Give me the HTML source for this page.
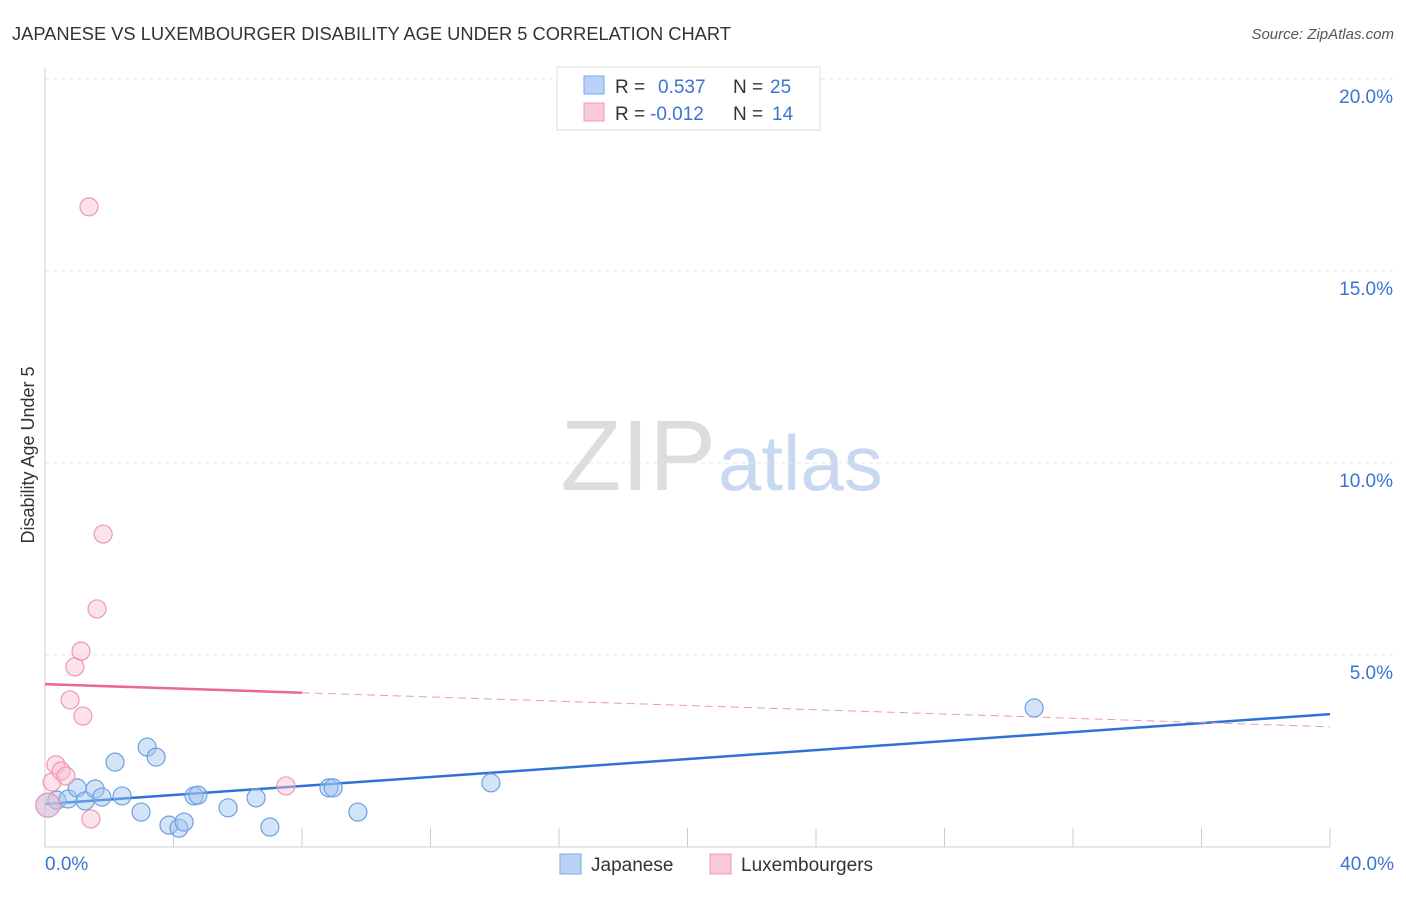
<!DOCTYPE html>
<html><head><meta charset="utf-8"><style>
body{margin:0;background:#fff;font-family:"Liberation Sans",sans-serif;}
svg text{font-family:"Liberation Sans",sans-serif;}
</style></head><body>
<svg id="chart" width="1406" height="892" xmlns="http://www.w3.org/2000/svg">
<text x="12" y="40" font-size="18.3" fill="#333">JAPANESE VS LUXEMBOURGER DISABILITY AGE UNDER 5 CORRELATION CHART</text>
<text x="1394" y="39" font-size="15" fill="#555" font-style="italic" text-anchor="end">Source: ZipAtlas.com</text>
<text x="716" y="490" font-size="100" fill="#ddd" font-family="Liberation Serif" text-anchor="end">ZIP</text>
<text x="718" y="490" font-size="78" fill="#c8d8f0">atlas</text>
<text transform="translate(34,455) rotate(-90)" font-size="18" fill="#333" text-anchor="middle">Disability Age Under 5</text>
<g id="grid"></g><g id="ticks"></g><g id="lines"></g><g id="points"></g>
<g>
<rect x="557" y="67" width="263" height="63" fill="#fff" stroke="#ddd"/>
<rect x="584" y="76" width="20" height="18" fill="#b8d3f7" stroke="#7aa8e8"/>
<text x="615" y="93" font-size="19" fill="#333">R =</text><text x="658" y="93" font-size="19" fill="#3a74d4">0.537</text>
<text x="733" y="93" font-size="19" fill="#333">N =</text><text x="770" y="93" font-size="19" fill="#3a74d4">25</text>
<rect x="584" y="103" width="20" height="18" fill="#fbc8d6" stroke="#f098b0"/>
<text x="615" y="120" font-size="19" fill="#333">R =</text><text x="650" y="120" font-size="19" fill="#3a74d4">-0.012</text>
<text x="733" y="120" font-size="19" fill="#333">N =</text><text x="772" y="120" font-size="19" fill="#3a74d4">14</text>
</g>
<g>
<rect x="560" y="854" width="21" height="20" fill="#b8d3f7" stroke="#7aa8e8"/>
<text x="591" y="871" font-size="19" fill="#333">Japanese</text>
<rect x="710" y="854" width="21" height="20" fill="#fbc8d6" stroke="#f098b0"/>
<text x="741" y="871" font-size="19" fill="#333">Luxembourgers</text>
</g>
</svg>
<script>
const yTicks=[5,10,15,20];
const yTickLabels=["5.0%","10.0%","15.0%","20.0%"];
const xTickLabels=["0.0%","40.0%"];
const japX=[0.09,0.37,0.72,1.0,1.25,1.56,1.77,2.18,2.4,2.99,3.18,3.46,3.86,4.17,4.33,4.64,4.76,5.7,6.57,7.0,8.84,8.97,9.74,13.88,30.79];
const japY=[1.09,1.22,1.25,1.54,1.2,1.51,1.3,2.21,1.33,0.91,2.6,2.34,0.57,0.49,0.65,1.33,1.35,1.02,1.28,0.52,1.54,1.54,0.91,1.67,3.62];
const luxX=[0.09,0.22,0.34,0.5,0.65,0.78,0.93,1.12,1.18,1.37,1.43,1.62,1.81,7.5];
const luxY=[1.09,1.69,2.14,1.98,1.85,3.83,4.69,5.1,3.41,16.67,0.73,6.2,8.15,1.59];
const japTrend=[1.12,3.46];
const luxTrend=[4.24,3.13];
const NS="http://www.w3.org/2000/svg";
const sx=v=>45+v*32.125, sy=v=>847-v*38.4;
function mk(t,a,p){const e=document.createElementNS(NS,t);for(const k in a)e.setAttribute(k,a[k]);document.getElementById(p).appendChild(e);return e;}
yTicks.forEach((t,i)=>{
 let g=mk('line',{x1:45,x2:1394,y1:sy(t),y2:sy(t),stroke:'#e4e4e4','stroke-dasharray':'4,4'},'grid');
 
 
 let l=mk('text',{x:1393,y:sy(t)+24,'font-size':19,fill:'#3a74d4','text-anchor':'end'},'ticks');
 l.textContent=yTickLabels[i];
 
 
});
let ax=mk('line',{x1:45,x2:45,y1:68,y2:847,stroke:'#ccc'},'grid');


let bx=mk('line',{x1:45,x2:1330,y1:847,y2:847,stroke:'#ccc'},'grid');


for(let i=1;i<=10;i++){
 let t=mk('line',{x1:sx(i*4),x2:sx(i*4),y1:828,y2:847,stroke:'#ccc'},'ticks');
 
 
}
[[0,'start',45],[40,'end',1394]].forEach((d,i)=>{
 let l=mk('text',{x:d[2],y:870,'font-size':19,fill:'#3a74d4','text-anchor':d[1]},'ticks');
 l.textContent=xTickLabels[i];
 
 
});
let bl=mk('line',{x1:sx(0),x2:sx(40),y1:sy(japTrend[0]),y2:sy(japTrend[1]),stroke:'#2f72d6','stroke-width':2.5},'lines');


const luxAt=x=>luxTrend[0]+(luxTrend[1]-luxTrend[0])*x/40;
let pl=mk('line',{x1:sx(0),x2:sx(8),y1:sy(luxTrend[0]),y2:sy(luxAt(8)),stroke:'#e86a92','stroke-width':2.5},'lines');


let pd=mk('line',{x1:sx(8),x2:sx(40),y1:sy(luxAt(8)),y2:sy(luxTrend[1]),stroke:'#e99ab2','stroke-width':1,'stroke-dasharray':'8,5'},'lines');


japX.forEach((x,i)=>{
 let c=mk('circle',{cx:sx(x),cy:sy(japY[i]),r:i==0?12:9,fill:'rgba(160,195,240,0.45)',stroke:'#6f9fe0','stroke-width':1.2},'points');
 
 
});
luxX.forEach((x,i)=>{
 let c=mk('circle',{cx:sx(x),cy:sy(luxY[i]),r:i==0?12:9,fill:'rgba(248,190,208,0.45)',stroke:'#ee98b2','stroke-width':1.2},'points');
 
 
});
</script>
</body></html>
